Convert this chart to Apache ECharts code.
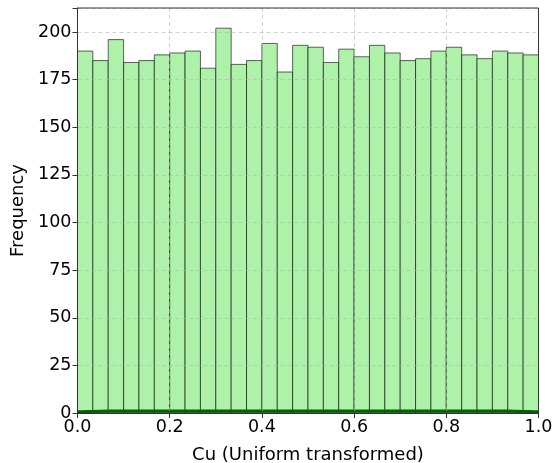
<!DOCTYPE html>
<html>
<head>
<meta charset="utf-8">
<script src="https://cdn.jsdelivr.net/npm/echarts@6/dist/echarts.min.js"></script>
<style>
  html, body { margin: 0; padding: 0; background: #fff; }
  #chart { width: 555px; height: 463px; }
</style>
</head>
<body>
<div id="chart"></div>
<script>
// Histogram of the uniform-transformed Cu variable: 30 equal bins on [0, 1]
const binCount = 30;
const binStart = 0;
const binEnd = 1;
const counts = [
  190, 185, 196, 184, 185, 188, 189, 190, 181, 202,
  183, 185, 194, 179, 193, 192, 184, 191, 187, 193,
  189, 185, 186, 190, 192, 188, 186, 190, 189, 188
];
// Kernel density estimate, drawn on the frequency axis
const kdeX = [0.0, 0.02, 0.05, 0.1, 0.2, 0.3, 0.4, 0.5, 0.6, 0.7, 0.8, 0.9, 0.95, 0.98, 1.0];
const kdeY = [0.6, 0.8, 0.95, 1.0, 1.0, 1.02, 1.0, 1.0, 1.0, 0.99, 1.01, 1.0, 0.95, 0.8, 0.6];
const xTicks = [0.0, 0.2, 0.4, 0.6, 0.8, 1.0];
const yTicks = [0, 25, 50, 75, 100, 125, 150, 175, 200];
const yMax = 212.6;

const binWidth = (binEnd - binStart) / binCount;
const histData = counts.map((c, i) => [binStart + i * binWidth, binStart + (i + 1) * binWidth, c]);
const kdeData = kdeX.map((x, i) => [x, kdeY[i]]);

const font = 'DejaVu Sans';
const nameSize = 18;
const tickSize = 17.5;
const gridBox = { left: 77.5, top: 8, width: 461, height: 405 };
const chart = echarts.init(document.getElementById('chart'), null, { renderer: 'canvas' });

const gridLine = { show: true, lineStyle: { color: 'rgba(180,180,180,0.6)', type: [4, 3], width: 1 } };

chart.setOption({
  animation: false,
  grid: { left: gridBox.left, top: gridBox.top, width: gridBox.width, height: gridBox.height,
    containLabel: false, outerBoundsMode: 'none' },
  xAxis: {
    type: 'value', min: 0, max: 1, interval: 0.2, z: 5,
    name: 'Cu (Uniform transformed)', nameLocation: 'middle', nameGap: 33,
    nameTextStyle: { fontFamily: font, fontSize: nameSize, color: '#000' },
    axisLine: { show: true, onZero: false, lineStyle: { color: '#333', width: 1 } },
    axisTick: { show: true, length: 5, lineStyle: { color: '#333' } },
    axisLabel: { fontFamily: font, fontSize: tickSize, color: '#000', margin: 5,
      formatter: v => xTicks.some(t => Math.abs(t - v) < 1e-9) ? v.toFixed(1) : '' },
    splitLine: gridLine
  },
  yAxis: {
    type: 'value', min: 0, max: yMax, interval: 25, z: 5,
    name: 'Frequency', nameLocation: 'middle', nameGap: 48,
    nameTextStyle: { fontFamily: font, fontSize: nameSize, color: '#000' },
    axisLine: { show: true, lineStyle: { color: '#333', width: 1 } },
    axisTick: { show: true, length: 5, lineStyle: { color: '#333' } },
    axisLabel: { fontFamily: font, fontSize: tickSize, color: '#000', margin: 6,
      formatter: v => yTicks.includes(v) ? String(v) : '' },
    splitLine: gridLine
  },
  series: [
    {
      type: 'custom',
      z: 2,
      data: histData,
      encode: { x: [0, 1], y: 2 },
      renderItem: (params, api) => {
        const p0 = api.coord([api.value(0), 0]);
        const p1 = api.coord([api.value(1), api.value(2)]);
        return {
          type: 'rect',
          shape: { x: p0[0], y: p1[1], width: p1[0] - p0[0], height: p0[1] - p1[1] },
          style: { fill: '#adf2a8', stroke: 'rgba(0,0,0,0.6)', lineWidth: 1 }
        };
      }
    },
    {
      type: 'line',
      z: 3,
      data: kdeData,
      showSymbol: false,
      smooth: true,
      lineStyle: { color: '#006400', width: 3 }
    }
  ],
  graphic: [{
    // top and right frame edges
    type: 'rect', z: 10, silent: true,
    shape: { x: gridBox.left, y: gridBox.top, width: gridBox.width, height: gridBox.height },
    style: { fill: 'none', stroke: '#333', lineWidth: 1 }
  }]
});
</script>
</body>
</html>
